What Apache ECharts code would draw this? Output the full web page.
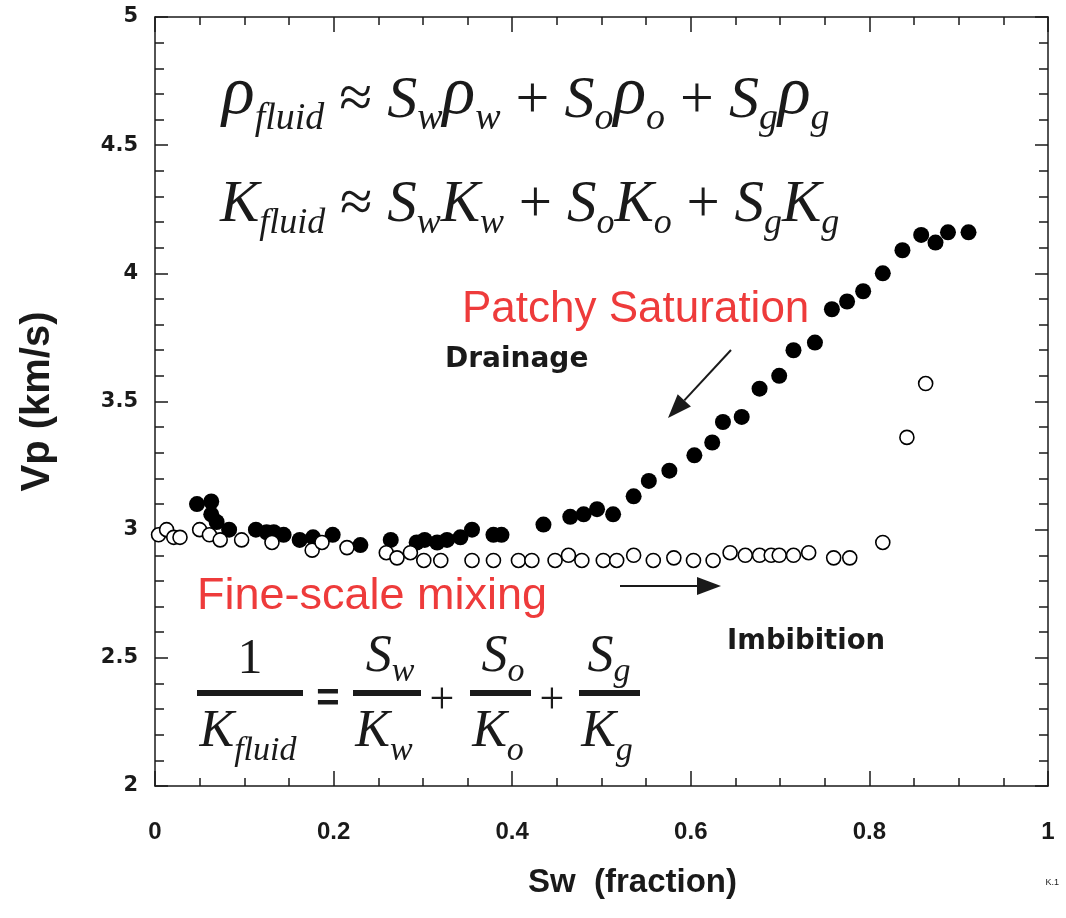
<!DOCTYPE html>
<html><head><meta charset="utf-8">
<script src="https://cdn.jsdelivr.net/npm/echarts@6/dist/echarts.min.js"></script>
<style>html,body{margin:0;padding:0;background:#fff}#c{width:1066px;height:918px}</style>
</head><body><div id="c"></div>
<script>
const drainageSw = [0.047,0.063,0.063,0.069,0.083,0.113,0.125,0.133,0.144,0.162,0.177,0.199,0.230,0.264,0.293,0.302,0.316,0.327,0.342,0.355,0.379,0.388,0.435,0.465,0.480,0.495,0.513,0.536,0.553,0.576,0.604,0.624,0.636,0.657,0.677,0.699,0.715,0.739,0.758,0.775,0.793,0.815,0.837,0.858,0.874,0.888,0.911];
const drainageVp = [3.10,3.11,3.06,3.03,3.00,3.00,2.99,2.99,2.98,2.96,2.97,2.98,2.94,2.96,2.95,2.96,2.95,2.96,2.97,3.00,2.98,2.98,3.02,3.05,3.06,3.08,3.06,3.13,3.19,3.23,3.29,3.34,3.42,3.44,3.55,3.60,3.70,3.73,3.86,3.89,3.93,4.00,4.09,4.15,4.12,4.16,4.16];
const imbibitionSw = [0.004,0.013,0.021,0.028,0.050,0.061,0.073,0.097,0.131,0.176,0.187,0.215,0.259,0.271,0.286,0.301,0.320,0.355,0.379,0.407,0.422,0.448,0.463,0.478,0.502,0.517,0.536,0.558,0.581,0.603,0.625,0.644,0.661,0.677,0.690,0.699,0.715,0.732,0.760,0.778,0.815,0.842,0.863];
const imbibitionVp = [2.98,3.00,2.97,2.97,3.00,2.98,2.96,2.96,2.95,2.92,2.95,2.93,2.91,2.89,2.91,2.88,2.88,2.88,2.88,2.88,2.88,2.88,2.90,2.88,2.88,2.88,2.90,2.88,2.89,2.88,2.88,2.91,2.90,2.90,2.90,2.90,2.90,2.91,2.89,2.89,2.95,3.36,3.57];
const xTickLabels = ['0','0.2','0.4','0.6','0.8','1'];
const yTickLabels = ['2','2.5','3','3.5','4','4.5','5'];
const xName = 'Sw  (fraction)';
const yName = 'Vp (km/s)';

const chart = echarts.init(document.getElementById('c'), null, {renderer:'canvas'});
const ink = '#1a1a1a';
const ls = {color: ink, width: 1.5};
function xAxis(pos, show) {
  return {type:'value', position:pos, min:0, max:1, interval:0.2,
    name: show ? xName : '', nameLocation:'middle', nameGap:80,
    nameTextStyle:{fontFamily:'Liberation Sans', fontWeight:'bold', fontSize:33, color:ink, padding:[0,0,0,62]},
    axisLine:{show:true, onZero:false, lineStyle:ls},
    axisTick:{show:true, inside:true, length:15, lineStyle:ls},
    minorTick:{show:true, splitNumber:4, length:8, lineStyle:ls},
    splitLine:{show:false}, minorSplitLine:{show:false},
    axisLabel:{show:show, margin:34, fontFamily:'Liberation Sans', fontWeight:'bold', fontSize:24, color:ink,
      formatter: v => xTickLabels[Math.round(v/0.2)]}};
}
function yAxis(pos, show) {
  return {type:'value', position:pos, min:2, max:5, interval:0.5,
    name: show ? yName : '', nameLocation:'middle', nameGap:97, nameRotate:90,
    nameTextStyle:{fontFamily:'Liberation Sans', fontWeight:'bold', fontSize:40, color:ink},
    axisLine:{show:true, onZero:false, lineStyle:ls},
    axisTick:{show:true, inside:true, length:13, lineStyle:ls},
    minorTick:{show:true, splitNumber:5, length:9, lineStyle:ls},
    splitLine:{show:false}, minorSplitLine:{show:false},
    axisLabel:{show:show, margin:17, fontFamily:'DejaVu Sans', fontWeight:'bold', fontSize:21, color:ink,
      formatter: v => yTickLabels[Math.round((v-2)/0.5)]}};
}

const serif = '"Liberation Serif","Times New Roman",serif';
// pad: how far (px) subscripts sit below the main baseline (main tokens are lifted by padding-bottom)
function richTxt(text, x, y, size, sub, pad, align, rho) {
  const r = rho || size;
  const pb = [0,0,pad,0];
  return {type:'text', x:x, y:y, silent:true, style:{
    text:text, align:align||'left', verticalAlign:'bottom', fill:ink,
    rich:{
      m:{fontFamily:serif, fontStyle:'italic', fontSize:size, lineHeight:size*1.05, verticalAlign:'bottom', padding:pb, color:ink},
      p:{fontFamily:serif, fontStyle:'italic', fontSize:r, lineHeight:size*1.05, verticalAlign:'bottom', padding:[0,0,pad+(r-size)*0.2,0], color:ink},
      r:{fontFamily:serif, fontSize:size, lineHeight:size*1.05, verticalAlign:'bottom', padding:pb, color:ink},
      s:{fontFamily:serif, fontStyle:'italic', fontSize:sub, verticalAlign:'bottom', color:ink}
    }}};
}
function arrow(x1,y1,x2,y2,hl,hw){
  const dx=x2-x1, dy=y2-y1, L=Math.hypot(dx,dy), ux=dx/L, uy=dy/L;
  const bx=x2-ux*hl, by=y2-uy*hl, px=-uy, py=ux;
  return [
    {type:'line', silent:true, shape:{x1:x1,y1:y1,x2:bx,y2:by}, style:{stroke:ink, lineWidth:2}},
    {type:'polygon', silent:true, shape:{points:[[x2,y2],[bx+px*hw,by+py*hw],[bx-px*hw,by-py*hw]]}, style:{fill:ink}}
  ];
}
const red = '#ee3b3b';
const graphics = [
  richTxt('{p|ρ}{s|fluid}{r| ≈ }{m|S}{s|w}{p|ρ}{s|w}{r| + }{m|S}{s|o}{p|ρ}{s|o}{r| + }{m|S}{s|g}{p|ρ}{s|g}', 222, 138, 60, 38, 7, 'left', 68),
  richTxt('{m|K}{s|fluid}{r| ≈ }{m|S}{s|w}{m|K}{s|w}{r| + }{m|S}{s|o}{m|K}{s|o}{r| + }{m|S}{s|g}{m|K}{s|g}', 220, 242, 59, 36, 7),
  {type:'text', x:462, y:310, silent:true, style:{text:'Patchy Saturation', fill:red, font:'44px "Liberation Sans"', verticalAlign:'middle'}},
  {type:'text', x:445, y:360, silent:true, style:{text:'Drainage', fill:ink, font:'bold 28px "DejaVu Sans"', verticalAlign:'middle'}},
  {type:'text', x:197, y:597, silent:true, style:{text:'Fine-scale mixing', fill:red, font:'45px "Liberation Sans"', verticalAlign:'middle'}},
  {type:'text', x:727, y:642, silent:true, style:{text:'Imbibition', fill:ink, font:'bold 27.5px "DejaVu Sans"', verticalAlign:'middle'}},
  {type:'text', x:1059, y:883, silent:true, style:{text:'K.1', fill:ink, font:'9px "Liberation Sans"', align:'right', verticalAlign:'middle'}},
  // fraction formula
  {type:'rect', silent:true, shape:{x:197,y:690,width:106,height:6}, style:{fill:ink}},
  {type:'rect', silent:true, shape:{x:353,y:690,width:68,height:6}, style:{fill:ink}},
  {type:'rect', silent:true, shape:{x:470,y:690,width:61,height:6}, style:{fill:ink}},
  {type:'rect', silent:true, shape:{x:579,y:690,width:61,height:6}, style:{fill:ink}},
  {type:'text', x:250, y:685, silent:true, style:{text:'1', fill:ink, font:'50px '+serif, align:'center', verticalAlign:'bottom'}},
  {type:'text', x:328, y:700, silent:true, style:{text:'=', fill:ink, font:'bold 40px "Liberation Sans"', align:'center', verticalAlign:'middle'}},
  {type:'text', x:442, y:701, silent:true, style:{text:'+', fill:ink, font:'44px '+serif, align:'center', verticalAlign:'middle'}},
  {type:'text', x:552, y:701, silent:true, style:{text:'+', fill:ink, font:'44px '+serif, align:'center', verticalAlign:'middle'}},
  richTxt('{m|S}{s|w}', 390, 689, 52, 34, 6, 'center'),
  richTxt('{m|S}{s|o}', 503, 689, 52, 34, 6, 'center'),
  richTxt('{m|S}{s|g}', 609, 689, 52, 34, 6, 'center'),
  richTxt('{m|K}{s|fluid}', 248, 768, 52, 34, 10, 'center'),
  richTxt('{m|K}{s|w}', 384, 768, 52, 34, 10, 'center'),
  richTxt('{m|K}{s|o}', 498, 768, 52, 34, 10, 'center'),
  richTxt('{m|K}{s|g}', 607, 768, 52, 34, 10, 'center')
].concat(arrow(731,350,668,418,24,9), arrow(620,586,721,586,24,9));

chart.setOption({
  animation:false,
  backgroundColor:'#ffffff',
  grid:{left:155, right:18, top:17, bottom:132, containLabel:false, outerBoundsMode:'none'},
  xAxis:[xAxis('bottom', true), xAxis('top', false)],
  yAxis:[yAxis('left', true), yAxis('right', false)],
  series:[
    {name:'Drainage', type:'scatter', xAxisIndex:0, yAxisIndex:0, symbol:'circle', symbolSize:16,
      itemStyle:{color:'#000', opacity:1}, data: drainageSw.map((x,i)=>[x, drainageVp[i]]), z:2},
    {name:'Imbibition', type:'scatter', xAxisIndex:0, yAxisIndex:0, symbol:'circle', symbolSize:14,
      itemStyle:{color:'#fff', borderColor:'#000', borderWidth:1.6, opacity:1}, data: imbibitionSw.map((x,i)=>[x, imbibitionVp[i]]), z:3}
  ],
  graphic: graphics
});
</script></body></html>
